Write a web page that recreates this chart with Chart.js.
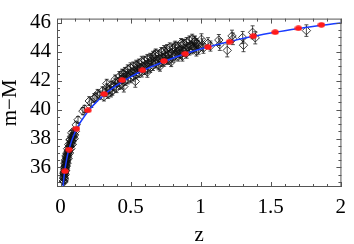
<!DOCTYPE html>
<html>
<head>
<meta charset="utf-8">
<script src="https://cdn.jsdelivr.net/npm/chart.js@4.4.1/dist/chart.umd.min.js"></script>
<style>
  html, body { margin: 0; padding: 0; background: #fff; }
  #wrap { width: 354px; height: 244px; }
</style>
</head>
<body>
<div id="wrap"><canvas id="chart" width="354" height="244"></canvas></div>
<script>
// Supernova data (z, distance modulus, error)
const snZ = [
  0.021, 0.022, 0.023, 0.024, 0.025, 0.026, 0.027, 0.028, 0.029, 0.030,
  0.031, 0.032, 0.033, 0.034, 0.035, 0.036, 0.037, 0.038, 0.040, 0.041,
  0.043, 0.044, 0.046, 0.048, 0.050, 0.052, 0.054, 0.056, 0.058, 0.060,
  0.063, 0.066, 0.069, 0.072, 0.075, 0.078, 0.082, 0.086, 0.090, 0.095,
  0.100, 0.106, 0.112, 0.125, 0.160, 0.172, 0.205, 0.220, 0.240, 0.254,
  0.265, 0.280, 0.300, 0.310, 0.320, 0.330, 0.340, 0.350, 0.360, 0.370,
  0.380, 0.390, 0.400, 0.410, 0.420, 0.430, 0.440, 0.450, 0.452, 0.460,
  0.470, 0.480, 0.490, 0.500, 0.510, 0.520, 0.530, 0.534, 0.540, 0.550,
  0.560, 0.570, 0.580, 0.590, 0.600, 0.610, 0.620, 0.630, 0.640, 0.650,
  0.660, 0.675, 0.680, 0.690, 0.700, 0.710, 0.720, 0.730, 0.740, 0.750,
  0.760, 0.770, 0.780, 0.790, 0.800, 0.815, 0.820, 0.830, 0.840, 0.850,
  0.860, 0.873, 0.880, 0.890, 0.900, 0.910, 0.920, 0.930, 0.940, 0.955,
  0.960, 0.970, 0.980, 1.006, 1.013, 1.020, 1.053, 1.070, 1.130, 1.137,
  1.190, 1.224, 1.230, 1.300, 1.306, 1.371, 1.390, 1.755,
  0.023, 0.025, 0.027, 0.029, 0.031, 0.033, 0.035, 0.037, 0.039, 0.042,
  0.045, 0.047, 0.051, 0.055, 0.059, 0.064, 0.068, 0.074, 0.079, 0.085,
  0.092, 0.098, 0.080, 0.070,
  0.330, 0.360, 0.390, 0.420, 0.440, 0.460, 0.480, 0.500, 0.520, 0.540,
  0.560, 0.580, 0.600, 0.620, 0.640, 0.660, 0.680, 0.700, 0.720, 0.740,
  0.760, 0.780, 0.800, 0.820, 0.840, 0.860, 0.880, 0.900, 0.920, 0.940,
  0.960, 0.970, 0.985, 0.450, 0.550, 0.650, 0.750, 0.850, 0.950, 0.620,
  0.710, 0.790, 0.870
];
const snMu = [
  35.05, 35.25, 35.10, 35.40, 35.30, 35.55, 35.45, 35.70, 35.60, 35.85,
  35.70, 36.00, 35.80, 36.10, 35.95, 36.25, 36.10, 36.40, 36.30, 36.55,
  36.45, 36.70, 36.60, 36.85, 36.75, 37.00, 36.90, 37.15, 37.05, 37.35,
  37.25, 37.50, 37.45, 37.65, 37.60, 37.85, 37.80, 38.00, 38.15, 38.30,
  38.25, 38.50, 38.95, 39.30, 39.90, 40.05, 40.60, 40.45, 40.80, 40.87,
  41.10, 41.00, 41.30, 40.90, 41.20, 41.50, 41.10, 41.40, 41.70, 41.30,
  41.60, 41.85, 41.50, 41.90, 41.70, 42.10, 41.80, 42.20, 41.60, 42.00,
  42.35, 42.10, 42.50, 42.20, 42.60, 42.30, 42.70, 41.95, 42.45, 42.80,
  42.55, 42.90, 42.60, 43.00, 42.75, 43.10, 42.85, 43.20, 42.90, 43.30,
  43.05, 43.76, 43.20, 43.45, 43.10, 43.50, 43.30, 43.60, 43.35, 43.70,
  43.45, 43.80, 43.50, 43.90, 43.60, 44.29, 43.75, 44.00, 43.70, 44.10,
  43.85, 44.50, 44.00, 44.20, 43.90, 44.35, 44.10, 44.45, 44.20, 44.70,
  44.30, 44.05, 44.50, 44.87, 44.50, 44.25, 44.60, 44.40, 44.82, 44.50,
  44.10, 45.10, 44.90, 44.99, 44.46, 45.35, 44.97, 45.47,
  35.60, 35.00, 36.00, 35.20, 36.30, 35.50, 36.50, 35.80, 36.80, 36.10,
  37.00, 36.30, 37.30, 36.60, 37.60, 37.00, 37.90, 37.30, 38.15, 37.60,
  38.50, 38.00, 38.40, 37.95,
  41.80, 41.20, 42.10, 42.30, 42.50, 42.60, 42.80, 42.90, 43.00, 43.10,
  43.20, 43.35, 43.40, 43.50, 43.60, 43.70, 43.90, 43.80, 44.00, 44.10,
  44.20, 44.30, 44.25, 44.40, 44.35, 44.60, 44.55, 44.65, 44.80, 44.90,
  44.75, 44.55, 44.20, 42.45, 43.00, 43.45, 43.95, 43.90, 44.30, 42.60,
  43.00, 43.30, 43.70
];
const snErr = [
  0.12, 0.12, 0.12, 0.12, 0.12, 0.12, 0.12, 0.12, 0.12, 0.12,
  0.12, 0.12, 0.12, 0.12, 0.12, 0.12, 0.12, 0.12, 0.12, 0.12,
  0.12, 0.12, 0.12, 0.12, 0.12, 0.12, 0.12, 0.12, 0.12, 0.12,
  0.15, 0.15, 0.15, 0.15, 0.15, 0.15, 0.15, 0.15, 0.15, 0.15,
  0.15, 0.18, 0.20, 0.22, 0.25, 0.25, 0.30, 0.30, 0.30, 0.30,
  0.30, 0.30, 0.28, 0.30, 0.30, 0.28, 0.32, 0.30, 0.28, 0.30,
  0.30, 0.28, 0.32, 0.30, 0.30, 0.28, 0.35, 0.30, 0.38, 0.32,
  0.30, 0.32, 0.30, 0.34, 0.30, 0.32, 0.30, 0.40, 0.32, 0.30,
  0.32, 0.30, 0.34, 0.30, 0.32, 0.30, 0.34, 0.30, 0.32, 0.30,
  0.34, 0.35, 0.32, 0.30, 0.34, 0.30, 0.32, 0.30, 0.34, 0.30,
  0.32, 0.30, 0.34, 0.30, 0.32, 0.38, 0.32, 0.30, 0.34, 0.30,
  0.32, 0.38, 0.32, 0.30, 0.34, 0.30, 0.32, 0.30, 0.34, 0.38,
  0.32, 0.34, 0.30, 0.38, 0.40, 0.35, 0.38, 0.35, 0.38, 0.40,
  0.45, 0.40, 0.40, 0.42, 0.45, 0.45, 0.42, 0.40,
  0.12, 0.12, 0.12, 0.12, 0.12, 0.12, 0.12, 0.12, 0.12, 0.12,
  0.14, 0.14, 0.14, 0.14, 0.14, 0.15, 0.15, 0.15, 0.15, 0.15,
  0.16, 0.16, 0.16, 0.16,
  0.30, 0.32, 0.30, 0.34, 0.30, 0.32, 0.30, 0.34, 0.30, 0.32,
  0.30, 0.34, 0.30, 0.32, 0.30, 0.34, 0.30, 0.32, 0.30, 0.34,
  0.30, 0.32, 0.30, 0.34, 0.30, 0.32, 0.30, 0.34, 0.30, 0.32,
  0.34, 0.36, 0.36, 0.30, 0.32, 0.30, 0.34, 0.30, 0.32, 0.36,
  0.34, 0.32, 0.34
];

// binned points (red)
const binZ = [0.032, 0.060, 0.114, 0.195, 0.312, 0.440, 0.585, 0.738, 0.890, 1.053, 1.207, 1.376, 1.532, 1.698, 1.862];
const binMu = [35.74, 37.24, 38.69, 39.95, 41.08, 42.04, 42.73, 43.37, 43.87, 44.33, 44.70, 45.08, 45.36, 45.63, 45.87];

// model curve (blue)
const curveZ = [0.015, 0.02, 0.025, 0.03, 0.04, 0.05, 0.06, 0.08, 0.1, 0.125, 0.15, 0.2, 0.25, 0.3, 0.35, 0.4,
  0.5, 0.6, 0.7, 0.8, 0.9, 1.0, 1.1, 1.2, 1.3, 1.4, 1.5, 1.6, 1.7, 1.8, 1.9, 2.0];
const curveMu = [34.25, 34.85, 35.35, 35.75, 36.35, 36.85, 37.25, 37.85, 38.35, 38.85, 39.25, 39.93, 40.47, 40.93, 41.33, 41.68,
  42.27, 42.76, 43.18, 43.56, 43.90, 44.20, 44.46, 44.70, 44.92, 45.12, 45.30, 45.46, 45.62, 45.76, 45.88, 46.00];

// axis ticks
const xTicks = [0, 0.5, 1, 1.5, 2];
const yTicks = [36, 38, 40, 42, 44, 46];

const serif = 'Liberation Serif';
const frameColor = '#555';

function points(xs, ys) {
    return xs.map((x, i) => ({ x: x, y: ys[i] }));
}

// small red blob used for the binned points
function redBlob() {
    const c = document.createElement('canvas');
    c.width = 8;
    c.height = 6;
    const g = c.getContext('2d');
    g.fillStyle = '#ff1a1a';
    g.beginPath();
    g.ellipse(4, 3, 3.7, 2.7, 0, 0, Math.PI * 2);
    g.fill();
    return c;
}

// error bars under the points, frame and inner ticks on top
const framePlugin = {
    id: 'frame',
    beforeDatasetsDraw(chart) {
        const ctx = chart.ctx;
        const xs = chart.scales.x, ys = chart.scales.y;
        const a = chart.chartArea;
        ctx.save();
        ctx.beginPath();
        ctx.rect(a.left, a.top, a.right - a.left, a.bottom - a.top);
        ctx.clip();
        ctx.strokeStyle = '#222';
        ctx.lineWidth = 0.8;
        snZ.forEach((z, i) => {
            const px = xs.getPixelForValue(z);
            const y1 = ys.getPixelForValue(snMu[i] - snErr[i]);
            const y2 = ys.getPixelForValue(snMu[i] + snErr[i]);
            ctx.beginPath();
            ctx.moveTo(px, y1); ctx.lineTo(px, y2);
            ctx.moveTo(px - 2, y1); ctx.lineTo(px + 2, y1);
            ctx.moveTo(px - 2, y2); ctx.lineTo(px + 2, y2);
            ctx.stroke();
        });
        ctx.restore();
    },
    afterDraw(chart) {
        const ctx = chart.ctx;
        const xs = chart.scales.x, ys = chart.scales.y;
        const a = chart.chartArea;
        ctx.save();
        ctx.strokeStyle = frameColor;
        ctx.lineWidth = 1;
        ctx.strokeRect(a.left + 0.5, a.top + 0.5, a.right - a.left - 1, a.bottom - a.top - 1);
        ctx.beginPath();
        for (let k = 0; k <= 20; k++) {
            const v = k / 10;
            const px = Math.round(xs.getPixelForValue(v)) + 0.5;
            const len = (k % 5 === 0) ? 5 : 3;
            ctx.moveTo(px, a.bottom); ctx.lineTo(px, a.bottom - len);
            ctx.moveTo(px, a.top); ctx.lineTo(px, a.top + len);
        }
        for (let k = 70; k <= 92; k++) {
            const v = k / 2;
            const py = Math.round(ys.getPixelForValue(v)) + 0.5;
            if (py < a.top || py > a.bottom) continue;
            const len = (k % 4 === 0) ? 5 : 3;
            ctx.moveTo(a.left, py); ctx.lineTo(a.left + len, py);
            ctx.moveTo(a.right, py); ctx.lineTo(a.right - len, py);
        }
        ctx.stroke();
        ctx.restore();
    }
};

const ctx = document.getElementById('chart').getContext('2d');
new Chart(ctx, {
    type: 'scatter',
    data: {
        datasets: [
            {
                label: 'bins',
                data: points(binZ, binMu),
                pointStyle: redBlob(),
                order: 0
            },
            {
                label: 'model',
                data: points(curveZ, curveMu),
                showLine: true,
                borderColor: '#1a3cff',
                borderWidth: 1.5,
                pointRadius: 0,
                tension: 0.3,
                order: 1
            },
            {
                label: 'SNe',
                data: points(snZ, snMu),
                pointStyle: 'rectRot',
                pointRadius: 4.2,
                borderColor: 'rgba(15,15,15,0.9)',
                borderWidth: 0.9,
                backgroundColor: 'rgba(255,255,255,0)',
                order: 2
            }
        ]
    },
    options: {
        responsive: false,
        animation: false,
        devicePixelRatio: 1,
        layout: { padding: { left: 0, right: 8, top: 5, bottom: 0 } },
        plugins: {
            legend: { display: false },
            tooltip: { enabled: false }
        },
        scales: {
            x: {
                type: 'linear',
                min: -0.025,
                max: 2.005,
                afterBuildTicks: s => { s.ticks = xTicks.map(v => ({ value: v })); },
                afterFit: s => { s.height = 57; },
                grid: { display: false, drawTicks: false },
                border: { display: false },
                ticks: {
                    padding: 8,
                    color: '#000',
                    font: { family: serif, size: 21 },
                    callback: v => String(v)
                },
                title: {
                    display: true,
                    text: 'z',
                    color: '#000',
                    font: { family: serif, size: 21, lineHeight: 1 },
                    padding: { top: 0, bottom: -2 }
                }
            },
            y: {
                type: 'linear',
                min: 34.65,
                max: 46.3,
                afterBuildTicks: s => { s.ticks = yTicks.map(v => ({ value: v })); },
                afterFit: s => { s.width = 57; },
                grid: { display: false, drawTicks: false },
                border: { display: false },
                ticks: {
                    padding: 6,
                    color: '#000',
                    font: { family: serif, size: 21 },
                    callback: v => String(v)
                },
                title: {
                    display: true,
                    text: 'm\u2212M',
                    color: '#000',
                    font: { family: serif, size: 21, lineHeight: 1 },
                    padding: { top: 0, bottom: 0 }
                }
            }
        }
    },
    plugins: [framePlugin]
});
</script>
</body>
</html>
